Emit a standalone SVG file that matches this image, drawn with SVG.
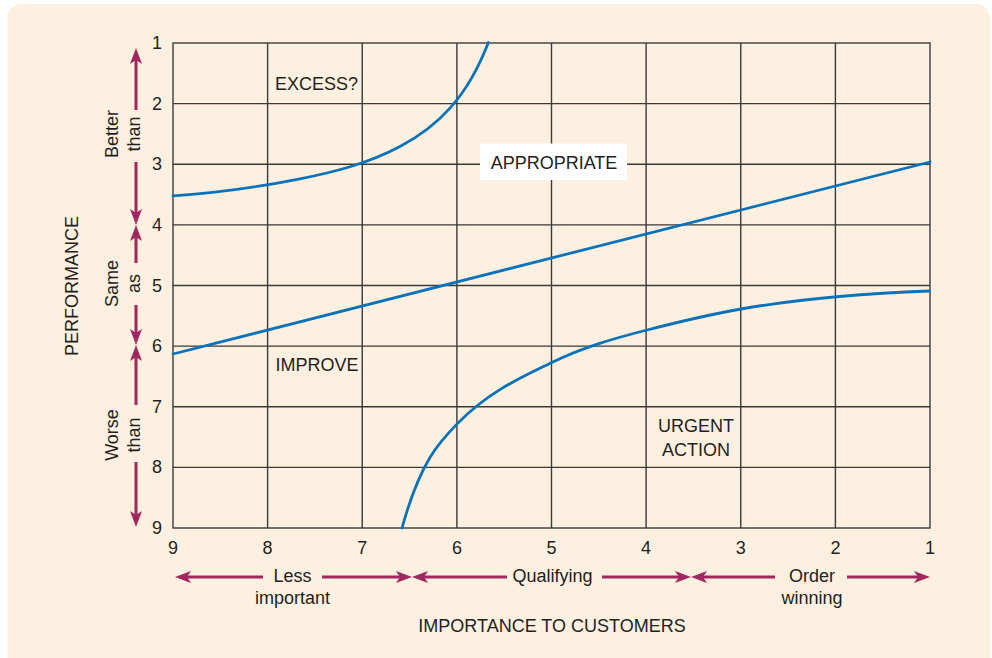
<svg xmlns="http://www.w3.org/2000/svg" width="992" height="658" viewBox="0 0 992 658">
<defs>
<style>
.bg{fill:#FDF0E1}
.grid{stroke:#3a3a3a;stroke-width:1.4;fill:none}
.curve{stroke:#0A72BA;stroke-width:2.8;fill:none;stroke-linecap:round}
.arr{stroke:#A3275F;stroke-width:3;fill:none;marker-end:url(#ah)}
text{font-family:"Liberation Sans",Arial,Helvetica,sans-serif;font-size:18px;fill:#231F20}
.num{text-anchor:middle}
.mid{text-anchor:middle}
</style>
<marker id="ah" viewBox="0 0 16 12" refX="6" refY="6" markerWidth="16" markerHeight="12" markerUnits="userSpaceOnUse" orient="auto">
<path d="M0,0 L16,6 L0,12 L4,6 Z" fill="#A3275F"/>
</marker>
</defs>
<rect class="bg" x="7.5" y="4" width="982.5" height="668" rx="14"/>
<g id="plot">
<rect x="173" y="43" width="757" height="485" fill="#fff" class="grid"/>
<path class="grid" d="M267.6,43V528 M362.25,43V528 M456.9,43V528 M551.5,43V528 M646.1,43V528 M740.75,43V528 M835.4,43V528 M173,103.6H930 M173,164.25H930 M173,224.9H930 M173,285.5H930 M173,346.1H930 M173,406.75H930 M173,467.4H930"/>
<rect x="480" y="143.5" width="147" height="36.5" fill="#fff"/>
</g>
<g id="connectors">
<path id="curve-excess" class="curve" d="M173,195.79 C215.33,192.99 257.67,187.24 300,178.82 C333.33,172.19 366.67,164 400,146.45 C416.67,137.67 433.33,126.72 450,108.1 C457.33,99.91 464.67,90.17 472,77.34 C477.47,67.77 482.93,56.53 488.4,42.5"/>
<path id="line-appropriate" class="curve" d="M173,354 L930,162"/>
<path id="curve-urgent" class="curve" d="M402,528 C420.57,461.1 439.13,442.24 457.7,423.3 C489.23,391.14 520.77,377.75 552.3,362.3 C583.87,346.83 615.43,338.05 647,330 C678.33,322.01 709.67,314.48 741,309 C803.77,298.02 866.53,293.51 929.3,291"/>
</g>
<g id="region-labels">
<text class="mid" x="316.5" y="90">EXCESS?</text>
<text class="mid" x="554" y="168.5">APPROPRIATE</text>
<text class="mid" x="317" y="371">IMPROVE</text>
<text class="mid" x="696" y="432">URGENT</text>
<text class="mid" x="696" y="456">ACTION</text>
</g>
<g id="y-numbers">
<text class="num" x="157" y="49">1</text>
<text class="num" x="157" y="109.6">2</text>
<text class="num" x="157" y="170.25">3</text>
<text class="num" x="157" y="230.9">4</text>
<text class="num" x="157" y="291.5">5</text>
<text class="num" x="157" y="352.1">6</text>
<text class="num" x="157" y="412.75">7</text>
<text class="num" x="157" y="473.4">8</text>
<text class="num" x="157" y="534">9</text>
</g>
<g id="x-numbers">
<text class="num" x="173" y="554">9</text>
<text class="num" x="267.6" y="554">8</text>
<text class="num" x="362.25" y="554">7</text>
<text class="num" x="456.9" y="554">6</text>
<text class="num" x="551.5" y="554">5</text>
<text class="num" x="646.1" y="554">4</text>
<text class="num" x="740.75" y="554">3</text>
<text class="num" x="835.4" y="554">2</text>
<text class="num" x="930" y="554">1</text>
</g>
<g id="y-axis-ranges">
<path class="arr" d="M136,110V58"/>
<path class="arr" d="M136,162V215"/>
<path class="arr" d="M136,263V235"/>
<path class="arr" d="M136,305V335"/>
<path class="arr" d="M136,405V355"/>
<path class="arr" d="M136,462V517"/>
<text class="mid" transform="translate(118,134) rotate(-90)">Better</text>
<text class="mid" transform="translate(140,134) rotate(-90)">than</text>
<text class="mid" transform="translate(118,283.5) rotate(-90)">Same</text>
<text class="mid" transform="translate(140,283.5) rotate(-90)">as</text>
<text class="mid" transform="translate(118,435) rotate(-90)">Worse</text>
<text class="mid" transform="translate(140,435) rotate(-90)">than</text>
<text class="mid" transform="translate(78,286) rotate(-90)">PERFORMANCE</text>
</g>
<g id="x-axis-ranges">
<path class="arr" d="M263,577H185"/>
<path class="arr" d="M322,577H402"/>
<path class="arr" d="M507,577H422"/>
<path class="arr" d="M602,577H681"/>
<path class="arr" d="M775,577H701"/>
<path class="arr" d="M847,577H920"/>
<text class="mid" x="292.5" y="582">Less</text>
<text class="mid" x="292.5" y="604">important</text>
<text class="mid" x="552.5" y="582">Qualifying</text>
<text class="mid" x="812" y="582">Order</text>
<text class="mid" x="812" y="604">winning</text>
<text class="mid" x="552" y="631.5">IMPORTANCE TO CUSTOMERS</text>
</g>
</svg>
